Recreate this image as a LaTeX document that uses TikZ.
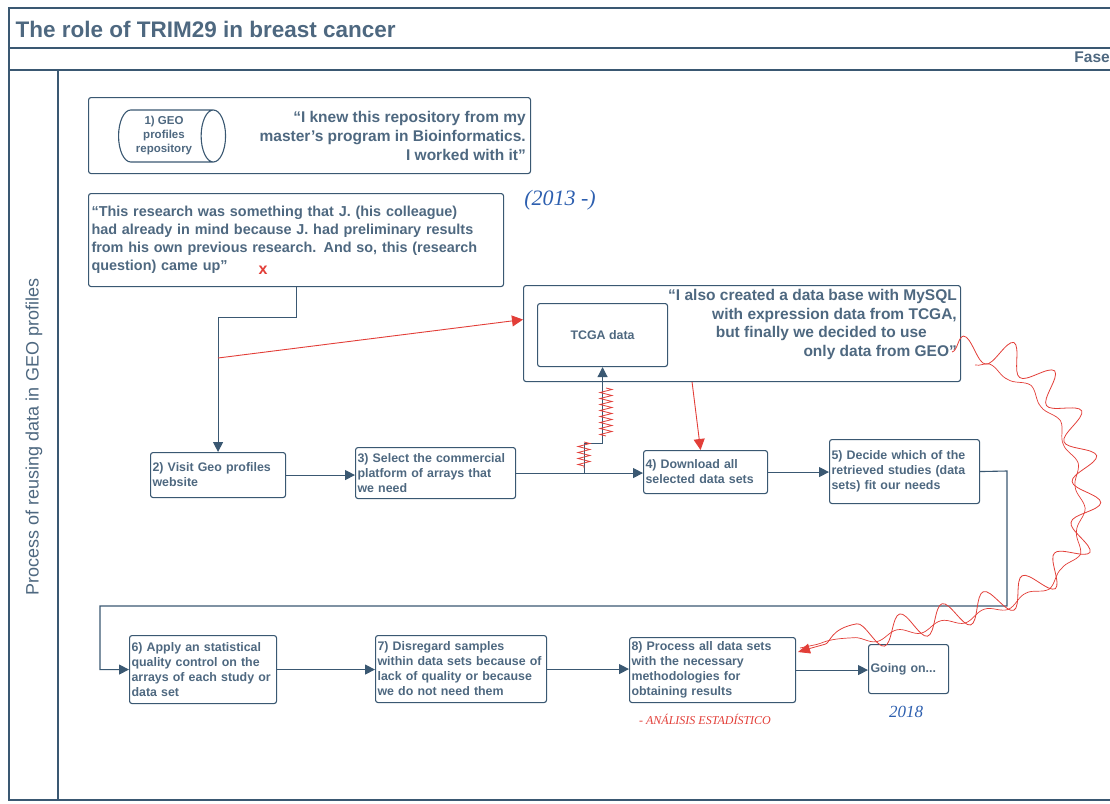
\documentclass[tikz,border=0pt]{standalone}
\usepackage{fontspec}
\setmainfont{Liberation Sans}
\newfontfamily\hand{Liberation Serif}
\usetikzlibrary{arrows.meta,shapes.geometric,decorations.pathmorphing,calc}
\definecolor{ink}{RGB}{78,104,128}
\definecolor{lineblue}{RGB}{58,88,114}
\definecolor{redink}{RGB}{226,62,56}
\definecolor{pen}{RGB}{45,95,175}
\begin{document}
\begin{tikzpicture}[x=1pt,y=-1pt,
  frame/.style={draw=lineblue, line width=1.1pt},
  box/.style={draw=lineblue, line width=1.1pt, rounded corners=2.5pt, inner sep=2pt, text=ink,
    font=\fontsize{12.4}{15}\selectfont\bfseries, align=left, anchor=north west},
  quote/.style={text=ink, font=\fontsize{15.5}{18.6}\selectfont\bfseries, inner sep=2pt},
  flow/.style={draw=lineblue, line width=1.1pt, -{Triangle[length=10pt,width=10pt]}},
  redarrow/.style={draw=redink, line width=0.9pt, -{Triangle[length=11pt,width=11pt]}},
  zig/.style={draw=redink, line width=0.8pt, decorate, decoration={zigzag, amplitude=6pt, segment length=6pt}}
]
\useasboundingbox (0,0) rectangle (1110,803);
% frame
\draw[frame] (1110,8) -- (9,8) -- (9,800) -- (1110,800);
\draw[frame] (9,48) -- (1110,48);
\draw[frame] (9,70) -- (1110,70);
\draw[frame] (58,70) -- (58,800);
\node[anchor=west, text=ink, font=\fontsize{22.5}{24}\selectfont\bfseries] (title) at (12,29) {The role of TRIM29 in breast cancer};
\node[anchor=east, text=ink, font=\fontsize{15.5}{17}\selectfont\bfseries, inner sep=1pt] (fase) at (1111,57) {Fase};
\node[rotate=90, text=ink, font=\fontsize{18}{20}\selectfont] (lane) at (34,437) {Process of reusing data in GEO profiles};

% box 1 with cylinder
\node[box, minimum width=442pt, minimum height=76pt] (q1box) at (88,97) {};
\node[cylinder, draw=lineblue, line width=1.1pt, text=ink, align=center, shape aspect=0.6,
  minimum height=107pt, minimum width=52pt, inner sep=1pt,
  font=\fontsize{11.5}{14}\selectfont\bfseries] (geo) at (164,136) {1) GEO\\profiles\\repository};
\node[quote, anchor=east, align=right] (q1) at (528,136) {“I knew this repository from my\\master’s program in Bioinformatics.\\I worked with it”};

% quote box 2
\node[box, font=\fontsize{14.4}{18}\selectfont\bfseries, inner sep=3pt, minimum width=415pt, minimum height=93pt, text width=409pt] (q2) at (88,193)
 {“This research was something that J. (his colleague)\\had already in mind because J. had preliminary results\\from his own previous research. And so, this (research\\question) came up”};
\node[text=redink, font=\fontsize{16}{17}\selectfont\bfseries] (xmark) at (263,270) {x};
\node[text=pen, font=\hand\itshape\fontsize{22}{24}\selectfont] (y2013) at (560,200) {(2013 -)};

% TCGA box
\node[box, minimum width=437pt, minimum height=96pt] (tout) at (523,285) {};
\node[box, align=center, minimum width=130pt, minimum height=63pt] (tcga) at (537,303) {TCGA data};
\node[quote, anchor=north east, align=right] (q3) at (959,287) {“I also created a data base with MySQL\\with expression data from TCGA,\\but finally we decided to use\kern30pt\\only data from GEO”};

% row 1
\node[box, minimum width=135pt, minimum height=45pt, text width=131pt] (b2) at (150,452) {2) Visit Geo profiles\\website};
\node[box, minimum width=160pt, minimum height=51pt, text width=156pt] (b3) at (355,447) {3) Select the commercial\\platform of arrays that\\we need};
\node[box, minimum width=124pt, minimum height=43pt, text width=120pt] (b4) at (643,450) {4) Download all\\selected data sets};
\node[box, minimum width=150pt, minimum height=64pt, text width=146pt] (b5) at (829,439) {5) Decide which of the\\retrieved studies (data\\sets) fit our needs\\[6pt]};

% row 2
\node[box, minimum width=147pt, minimum height=68pt, text width=143pt] (b6) at (129,635) {6) Apply an statistical\\quality control on the\\arrays of each study or\\data set};
\node[box, minimum width=171pt, minimum height=67pt, text width=167pt] (b7) at (375,635) {7) Disregard samples\\within data sets because of\\lack of quality or because\\we do not need them};
\node[box, minimum width=166pt, minimum height=65pt, text width=162pt] (b8) at (629,637) {8) Process all data sets\\with the necessary\\methodologies for\\obtaining results};
\node[box, minimum width=80pt, minimum height=49pt, text width=76pt] (go) at (868,644) {Going on...};
\node[text=pen, font=\hand\itshape\fontsize{17}{18}\selectfont] (y2018) at (906,712) {2018};
\node[text=redink, font=\hand\itshape\fontsize{12}{13}\selectfont] (stat) at (705,719) {- ANÁLISIS ESTADÍSTICO};

% blue flow
\draw[flow] (q2.south) -- ++(0,30) -| (b2.north);
\draw[flow] (b2.east) -- (b2.east -| b3.west);
\draw[flow] (b3.east) -- (b3.east -| b4.west);
\coordinate (br) at ($(b3.east)!0.54!(b3.east -| b4.west)$);
\draw[flow] (br) -- ++(0,-30) -| (tcga.south);
\draw[flow] (b4.east) -- (b4.east -| b5.west);
\draw[flow] (b5.east) -- (1007,471) -- (1007,606) -- (100,606) |- (b6.west);
\draw[flow] (b6.east) -- (b6.east -| b7.west);
\draw[flow] (b7.east) -- (b7.east -| b8.west);
\draw[flow] (b8.east) -- (b8.east -| go.west);

% red annotations
\coordinate (rs) at (218,358);
\draw[redarrow] (rs) -- ([yshift=14pt]tout.west);
\draw[redarrow] ([xshift=-50pt]tout.south) -- ([xshift=-5pt]b4.north);
\draw[zig] (606,388) -- (606,436);
\draw[zig] (584,442) -- (584,468);
\coordinate (gq) at (952,352);
\draw[draw=redink, line width=0.8pt, decorate, decoration={snake, amplitude=14pt, segment length=44pt, post length=14pt}, -{Triangle[length=12pt,width=10pt]}]
  (gq) .. controls (1030,340) and (1085,430) .. (1075,520) .. controls (1065,610) and (900,620) .. (798,652);
\draw[draw=redink, line width=0.7pt, decorate, decoration={snake, amplitude=4pt, segment length=45pt}]
  (975,365) .. controls (1045,380) and (1080,470) .. (1068,540) .. controls (1055,615) and (880,630) .. (800,648);
\end{tikzpicture}
\end{document}
